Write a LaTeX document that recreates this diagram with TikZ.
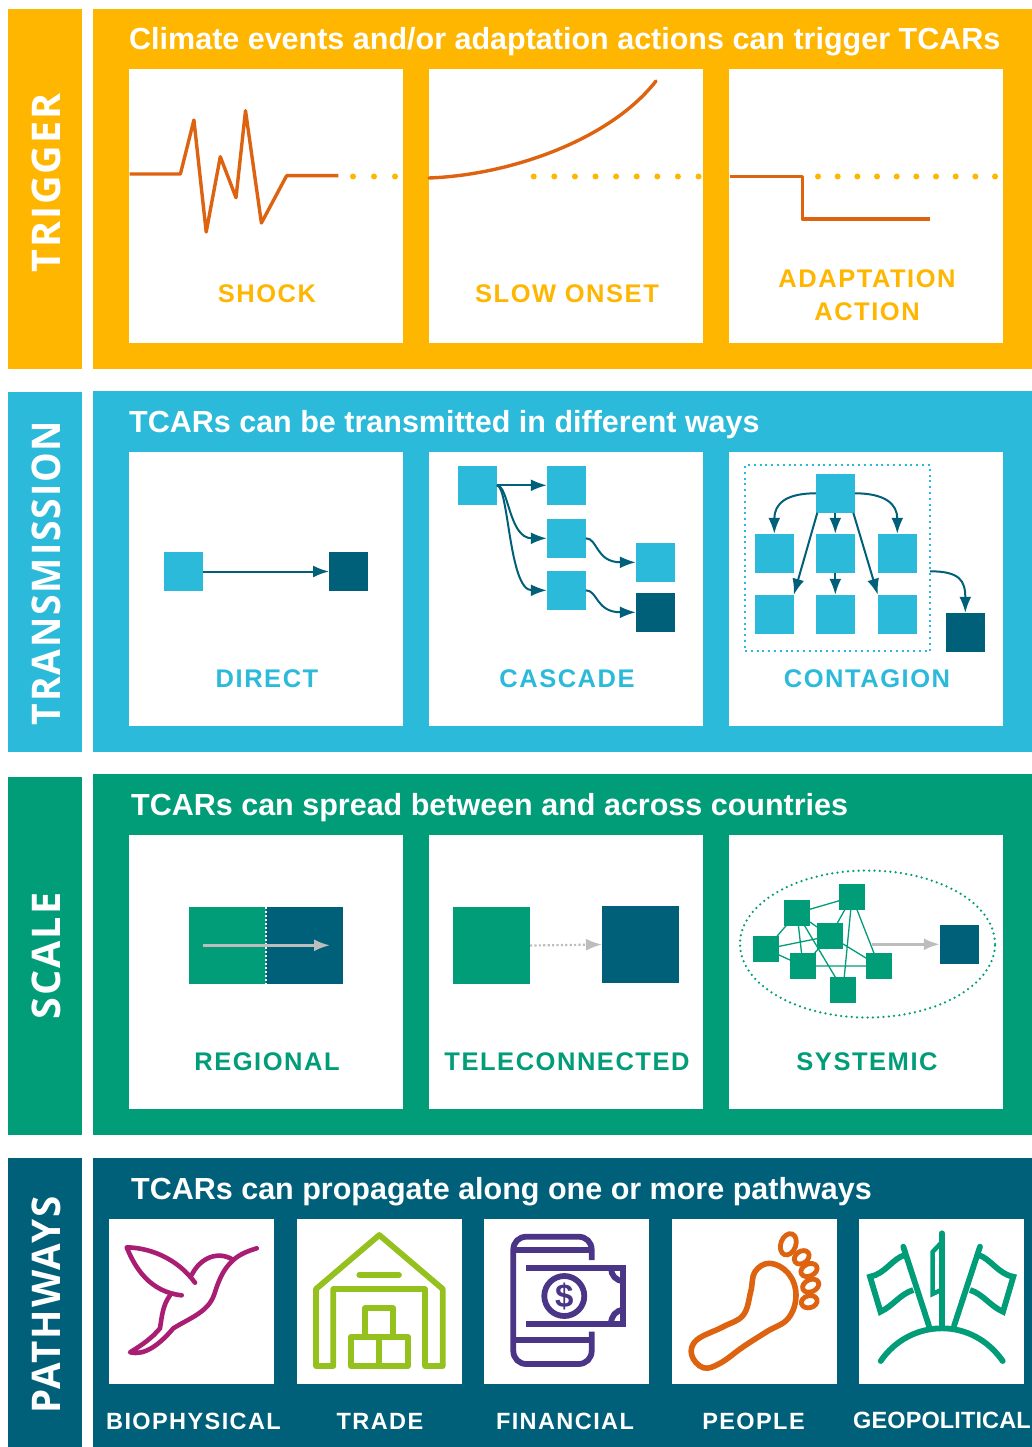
\documentclass[tikz,border=0pt]{standalone}
\usepackage{fontspec}
\setmainfont{Liberation Sans}
\newfontfamily\lblfont[LetterSpace=6]{Liberation Sans}
\newfontfamily\geofont[LetterSpace=0.5]{Liberation Sans}
\newfontfamily\sidefont[LetterSpace=5]{Open Sans}
\usetikzlibrary{arrows.meta,shapes.geometric}
\definecolor{cyel}{HTML}{FFB600}
\definecolor{corg}{HTML}{DD6311}
\definecolor{cblu}{HTML}{2CBADB}
\definecolor{cgrn}{HTML}{009D78}
\definecolor{cdrk}{HTML}{00607A}
\definecolor{cpur}{HTML}{4B3586}
\definecolor{clim}{HTML}{95C11F}
\definecolor{cmag}{HTML}{A91E72}
\definecolor{cgry}{HTML}{BDBDBD}
\tikzset{
  sq/.style={minimum size=39pt,inner sep=0pt,outer sep=0pt,fill=cblu},
  dk/.style={sq,fill=cdrk},
  gs/.style={minimum size=26pt,inner sep=0pt,outer sep=0pt,fill=cgrn},
  big/.style={minimum size=77pt,inner sep=0pt,outer sep=0pt},
  wbox/.style={fill=white},
  arr/.style={draw=cdrk,line width=2pt,-{Latex[length=16pt,width=12pt]}},
  garr/.style={draw=cgry,line width=2.6pt,-{Latex[length=16pt,width=12pt]}},
  link/.style={draw=cgrn,line width=1.3pt},
  sig/.style={draw=corg,line width=3.4pt,line join=round},
  ydots/.style={draw=cyel,line width=6pt,line cap=round},
  side/.style={text=white,rotate=90,inner sep=0pt,font=\sidefont\bfseries\fontsize{39.5}{40}\selectfont},
  ttl/.style={text=white,anchor=west,inner sep=0pt,font=\bfseries\fontsize{30.5}{31}\selectfont},
  lbl/.style={inner sep=0pt,align=center,font=\lblfont\bfseries\fontsize{25.5}{33}\selectfont},
  pl/.style={text=white,inner sep=0pt,font=\lblfont\bfseries\fontsize{23.5}{25}\selectfont},
}
\begin{document}
\begin{tikzpicture}[x=1pt,y=-1pt]
\useasboundingbox (0,0) rectangle (1032,1447);
\fill[white] (0,0) rectangle (1032,1447);
% side bars and panels
\fill[cyel] (8,9) rectangle (82,369);
\fill[cyel] (93,9) rectangle (1032,369);
\fill[cblu] (8,392) rectangle (82,752);
\fill[cblu] (93,391) rectangle (1032,752);
\fill[cgrn] (8,777) rectangle (82,1135);
\fill[cgrn] (93,774) rectangle (1032,1135);
\fill[cdrk] (8,1158) rectangle (82,1447);
\fill[cdrk] (93,1158) rectangle (1032,1447);
\node[side] (s1) at (46,183) {TRIGGER};
\node[side,xscale=.945] (s2) at (46,573) {TRANSMISSION};
\node[side] (s3) at (46,956) {SCALE};
\node[side,xscale=.975] (s4) at (46,1305) {PATHWAYS};
\node[ttl] (t1) at (129,42) {Climate events and/or adaptation actions can trigger TCARs};
\node[ttl] (t2) at (129,425) {TCARs can be transmitted in different ways};
\node[ttl] (t3) at (131,808) {TCARs can spread between and across countries};
\node[ttl] (t4) at (131,1192) {TCARs can propagate along one or more pathways};
% white boxes
\foreach \yy in {69,452,835}{
  \foreach \xx in {129,429,729}{
    \fill[wbox] (\xx,\yy) rectangle ++(274,274);
  }
}
\foreach \xx in {109,297,484,672,859}{
  \fill[wbox] (\xx,1219) rectangle ++(165,165);
}
% trigger
\draw[ydots,dash pattern=on 0pt off 21pt] (353,176.5) -- (396,176.5);
\draw[ydots,dash pattern=on 0pt off 20.6pt] (533.7,176.5) -- (699,176.5);
\draw[ydots,dash pattern=on 0pt off 19.67pt] (818,176.5) -- (996,176.5);
\draw[sig] (129.5,174) -- (180.4,174) -- (193.9,120) -- (206.2,232) -- (220.3,156.7) -- (236,197.7) -- (245.5,110.7) -- (261.4,223) -- (286.6,175.7) -- (338.3,175.7);
\draw[sig,line cap=round] (429,178) .. controls (510,175) and (610,140) .. (656,81);
\draw[sig] (729.7,176.7) -- (802.5,176.7) -- (802.5,219) -- (929.8,219);
\node[lbl,text=cyel] (l1) at (267,294) {SHOCK};
\node[lbl,text=cyel] (l2) at (567,294) {SLOW ONSET};
\node[lbl,text=cyel] (l3) at (867,295) {ADAPTATION\\ACTION};
% direct
\node[sq] (d1) at (183.5,571.5) {};
\node[dk] (d2) at (348.5,571.5) {};
\draw[arr] (d1) -- (d2);
\node[lbl,text=cblu] (l4) at (267,679) {DIRECT};
% cascade
\node[sq] (c0) at (477.3,485.3) {};
\node[sq] (c1) at (566.3,485.3) {};
\node[sq] (c2) at (566.3,538.3) {};
\node[sq] (c3) at (566.3,590.3) {};
\node[sq] (c4) at (655.3,562.3) {};
\node[dk] (c5) at (655.3,612.3) {};
\draw[arr] (c0) -- (c1);
\draw[arr] (c0.east) .. controls +(12,0) and +(-38,0) .. (c2.west);
\draw[arr] (c0.east) .. controls +(12,0) and +(-38,0) .. (c3.west);
\draw[arr] (c2.east) .. controls +(12,0) and +(-40,0) .. (c4.west);
\draw[arr] (c3.east) .. controls +(12,0) and +(-40,0) .. (c5.west);
\node[lbl,text=cblu] (l5) at (567,679) {CASCADE};
% contagion
\node[draw=cblu,line width=2pt,dash pattern=on 2pt off 3.8pt,minimum width=185pt,minimum height=186pt,inner sep=0pt,outer sep=0pt] (cb) at (837.5,558.2) {};
\node[sq] (g0) at (835.3,493.3) {};
\node[sq] (g1) at (774.3,553.3) {};
\node[sq] (g2) at (835.3,553.3) {};
\node[sq] (g3) at (897.3,553.3) {};
\node[sq] (g4) at (774.3,614.3) {};
\node[sq] (g5) at (835.3,614.3) {};
\node[sq] (g6) at (897.3,614.3) {};
\node[dk] (g7) at (965.3,632.3) {};
\coordinate (gx) at (930,571.3);
\draw[arr] (g0.west) .. controls +(-30,0) and +(0,-30) .. (g1.north);
\draw[arr] (g0.east) .. controls +(30,0) and +(0,-30) .. (g3.north);
\draw[arr] (g0) -- (g2);
\draw[arr] (g2) -- (g5);
\draw[arr] ([xshift=1.5pt]g0.south west) -- (g4.north east);
\draw[arr] ([xshift=-1.5pt]g0.south east) -- (g6.north west);
\draw[arr] (gx) .. controls +(30,0) and +(0,-32) .. (g7.north);
\node[lbl,text=cblu] (l6) at (867,679) {CONTAGION};
% regional
\node[big,fill=cgrn] (r1) at (227.5,945.5) {};
\node[big,fill=cdrk] (r2) at (304.5,945.5) {};
\coordinate (r3) at (203,945.3);
\coordinate (r4) at (330,945.3);
\draw[white,line width=1.8pt,dash pattern=on 1.8pt off 2.2pt] (r1.north east) -- (r1.south east);
\draw[garr] (r3) -- (r4);
\node[lbl,text=cgrn] (l7) at (267,1062) {REGIONAL};
% teleconnected
\node[big,fill=cgrn] (e1) at (491.5,945.5) {};
\node[big,fill=cdrk] (e2) at (640.5,944.5) {};
\draw[draw=cgry,line width=2.2pt,dash pattern=on 2.2pt off 2.2pt,-{Latex[length=16pt,width=12pt]}] (e1.east) -- (e2.west);
\node[lbl,text=cgrn] (l8) at (567,1062) {TELECONNECTED};
% systemic
\node[draw=cgrn,ellipse,line width=2.5pt,line cap=round,dash pattern=on 0pt off 5.3pt,minimum width=255pt,minimum height=147pt,inner sep=0pt] (ov) at (867.5,944) {};
\node[dk] (y7) at (959.3,944.3) {};
\coordinate (sx) at (871.7,944.3);
\draw[garr] (sx) -- (y7.west);
\coordinate (n1) at (852,897);
\coordinate (n2) at (797,913);
\coordinate (n3) at (830,936);
\coordinate (n4) at (766,949);
\coordinate (n5) at (803,966);
\coordinate (n6) at (879,966);
\coordinate (n7) at (843,990);
\draw[link] (n2)--(n1) (n1)--(n3) (n1)--(n7) (n1)--(n6) (n2)--(n3) (n2)--(n5) (n2)--(n7) (n4)--(n2) (n4)--(n3) (n4)--(n5) (n5)--(n3) (n5)--(n6) (n3)--(n6);
\foreach \i in {1,...,7}{\node[gs] (q\i) at (n\i) {};}
\node[lbl,text=cgrn] (l9) at (867,1062) {SYSTEMIC};
% hummingbird
\begin{scope}[draw=cmag,line width=4.6pt,line cap=round,line join=round]
\draw (195,1282.7) .. controls (180,1262) and (155,1248) .. (126.7,1247.3)
      .. controls (135,1268) and (150,1292) .. (181.7,1295.3);
\draw (191.7,1275) .. controls (200,1258) and (218,1250) .. (233.3,1260)
      .. controls (240,1254) and (248,1251) .. (256.7,1248.3);
\draw (233.3,1260) .. controls (222,1270) and (218,1283) .. (214,1295)
      .. controls (208,1312) and (190,1318) .. (173.3,1328.3)
      .. controls (160,1344) and (145,1356) .. (130,1352.3)
      .. controls (142,1345) and (152,1338) .. (160,1328.3)
      .. controls (162,1315) and (163,1305) .. (170,1295.3);
\end{scope}
% warehouse
\begin{scope}[draw=clim,line width=5.8pt,line join=round,line cap=round]
\draw (316,1366) -- (316,1289) -- (379.3,1235) -- (442.7,1289) -- (442.7,1366) -- (425,1366) -- (425,1289) -- (333.3,1289) -- (333.3,1366) -- cycle;
\draw (359.3,1275) -- (399,1275);
\draw (350.7,1336.7) rectangle (408,1366);
\draw (379.3,1336.7) -- (379.3,1366);
\draw (365,1336.7) -- (365,1308.3) -- (393.3,1308.3) -- (393.3,1336.7);
\end{scope}
% phone and note
\begin{scope}[draw=cpur,line width=5.8pt]
\draw (591.7,1260) -- (591.7,1250) .. controls (591.7,1242) and (586,1236.7) .. (578.4,1236.7) -- (526.6,1236.7) .. controls (519,1236.7) and (513.3,1242) .. (513.3,1250) -- (513.3,1350.7) .. controls (513.3,1358.5) and (519,1364) .. (526.6,1364) -- (578.4,1364) .. controls (586,1364) and (591.7,1358.5) .. (591.7,1350.7) -- (591.7,1331.7);
\draw (513.3,1250) -- (591.7,1250);
\draw (513.3,1340) -- (591.7,1340);
\draw (526,1268.3) -- (623.3,1268.3) -- (623.3,1324) -- (526,1324);
\draw (564.3,1296) circle[radius=20pt];
\draw (611,1268.3) .. controls (611,1275) and (616,1281) .. (623.3,1281);
\draw (611,1324) .. controls (611,1316) and (616,1310) .. (623.3,1310);
\end{scope}
\node[text=cpur,inner sep=0pt,font=\bfseries\fontsize{33}{33}\selectfont] (dl) at (564.3,1296) {\$};
% foot
\draw[corg,line width=5.6pt,line join=round] plot[smooth cycle,tension=.65] coordinates {(770,1263.3) (788.3,1273.3) (796,1295) (788.3,1318.3) (766.7,1331.7) (743.3,1346.7) (720,1363.3) (703.3,1367.7) (691.7,1355) (696.7,1340) (723.3,1326.7) (743.3,1315) (750.7,1291.7) (755,1271.7)};
\begin{scope}[draw=corg,line width=4.8pt]
\draw[rotate around={-20:(788.3,1244.3)}] (788.3,1244.3) ellipse[x radius=7.5pt,y radius=11pt];
\draw[rotate around={35:(801.7,1257.3)}] (801.7,1257.3) ellipse[x radius=8pt,y radius=6pt];
\draw[rotate around={25:(809,1270)}] (809,1270) ellipse[x radius=8.5pt,y radius=6pt];
\draw[rotate around={25:(810.7,1285.7)}] (810.7,1285.7) ellipse[x radius=8.5pt,y radius=6pt];
\draw[rotate around={15:(809.3,1301.7)}] (809.3,1301.7) ellipse[x radius=8pt,y radius=6pt];
\end{scope}
% flags
\begin{scope}[draw=cgrn,line width=5.8pt,line cap=round,line join=miter]
\draw (880.7,1361) .. controls (895,1340) and (918,1328.3) .. (942,1328.3) .. controls (966,1328.3) and (988,1340) .. (1002.7,1361);
\draw (942,1233.3) -- (942,1326);
\draw[line cap=butt,line width=4.5pt] (941,1243) -- (932.5,1252) -- (932.5,1294) -- (941,1290);
\draw (903.3,1246.7) -- (929,1326);
\draw (980,1246.7) -- (954,1326);
\draw[line cap=butt] (905,1255) .. controls (893,1258) and (885,1274) .. (870,1276.7) -- (880.5,1311.7) .. controls (893,1306) and (900,1294) .. (913.3,1290);
\draw[line cap=butt] (978.3,1255) .. controls (990,1258) and (998,1274) .. (1013.3,1276.7) -- (1003,1311.7) .. controls (990,1306) and (983,1294) .. (970,1290);
\end{scope}
% pathway labels
\node[pl] (p1) at (193.5,1421) {BIOPHYSICAL};
\node[pl] (p2) at (380,1421) {TRADE};
\node[pl] (p3) at (565,1421) {FINANCIAL};
\node[pl] (p4) at (753.5,1421) {PEOPLE};
\node[pl,anchor=west,font=\geofont\bfseries\fontsize{23.5}{25}\selectfont] (p5) at (853,1420) {GEOPOLITICAL};
\end{tikzpicture}
\end{document}
